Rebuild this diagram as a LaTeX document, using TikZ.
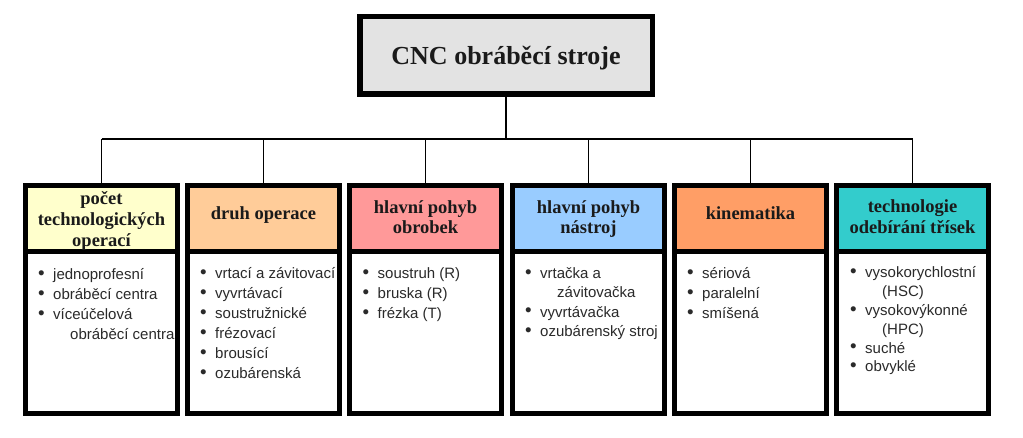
\documentclass[tikz,border=0pt]{standalone}
\usepackage{fontspec}
\usepackage{graphicx}
\setmainfont{Liberation Serif}
\setsansfont{Liberation Sans}
\definecolor{cTop}{HTML}{E3E3E3}
\definecolor{cA}{HTML}{FFFFCC}
\definecolor{cB}{HTML}{FFCC99}
\definecolor{cC}{HTML}{FF9999}
\definecolor{cD}{HTML}{99CCFF}
\definecolor{cE}{HTML}{FF9E66}
\definecolor{cF}{HTML}{33CCCC}
\definecolor{htxt}{HTML}{1A1A1A}
\definecolor{btxt}{HTML}{2A2A2A}
\newcommand\bitem{\par\noindent\llap{\raisebox{0.3pt}{\scalebox{1.25}{\textbullet}}\hspace{8.5pt}}}
\newcommand\cont{\\\hspace*{17pt}}
\tikzset{
  topbox/.style={draw=black, line width=5.5pt, fill=cTop, inner sep=0pt,
    minimum width=292.5pt, minimum height=77.5pt, text height=19pt, text depth=0pt,
    font=\fontsize{26}{30}\selectfont\bfseries, text=htxt},
  headbox/.style={draw=black, line width=5pt, inner sep=0pt,
    minimum width=152pt, minimum height=66.5pt},
  htext/.style={anchor=base, inner sep=0pt, text=htxt,
    font=\fontsize{18.5}{21}\selectfont\bfseries},
  bodybox/.style={draw=black, line width=5pt, inner sep=0pt, fill=white,
    minimum width=152pt, minimum height=161.5pt},
  items/.style={anchor=base west, inner sep=0pt, text=btxt,
    font=\sffamily\fontsize{15}{20}\selectfont},
  bus/.style={line width=2.6pt},
  drop/.style={line width=1.6pt}
}
\newcommand\hlines[1]{\parbox[t]{150pt}{\centering #1}}
\begin{document}
\begin{tikzpicture}[x=1pt,y=-1pt]
\useasboundingbox (0,0) rectangle (1023,438);
\node[topbox] (top) at (506,55.5) {CNC obráběcí stroje};
% bodies
\node[bodybox] (b1) at (101.5,332.75) {};
\node[bodybox] (b2) at (263.5,332.75) {};
\node[bodybox] (b3) at (425.5,332.75) {};
\node[bodybox] (b4) at (588.5,332.75) {};
\node[bodybox] (b5) at (750.5,332.75) {};
\node[bodybox] (b6) at (912.5,332.75) {};
% heads
\node[headbox, fill=cA] (h1) at (101.5,218.75) {};
\node[headbox, fill=cB] (h2) at (263.5,218.75) {};
\node[headbox, fill=cC] (h3) at (425.5,218.75) {};
\node[headbox, fill=cD] (h4) at (588.5,218.75) {};
\node[headbox, fill=cE] (h5) at (750.5,218.75) {};
\node[headbox, fill=cF] (h6) at (912.5,218.75) {};
\node[htext] (l1) at (101.5,205) {\hlines{počet\\technologických\\operací}};
\node[htext] (l2) at (263.5,220) {\hlines{druh operace}};
\node[htext, font=\fontsize{18.5}{20.5}\selectfont\bfseries] (l3) at (425.5,213.5) {\hlines{hlavní pohyb\\obrobek}};
\node[htext, font=\fontsize{18.5}{20.5}\selectfont\bfseries] (l4) at (588.5,213.5) {\hlines{hlavní pohyb\\nástroj}};
\node[htext] (l5) at (750.5,219.5) {\hlines{kinematika}};
\node[htext, font=\fontsize{18.5}{20.8}\selectfont\bfseries] (l6) at (912.5,212.5) {\hlines{technologie\\odebírání třísek}};
% connectors
\coordinate (bus) at (506,139);
\draw[drop] (top.south) -- (bus);
\draw[bus] (h1.north |- bus) -- (h6.north |- bus);
\foreach \i in {1,...,6}{
  \draw[drop] (h\i.north) -- (h\i.north |- bus);
}
% item lists
\node[items] (t1) at (53,279.5) {\parbox[t]{130pt}{%
  \bitem jednoprofesní
  \bitem obráběcí centra
  \bitem víceúčelová\cont obráběcí centra}};
\node[items] (t2) at (215,278.5) {\parbox[t]{130pt}{%
  \bitem vrtací a závitovací
  \bitem vyvrtávací
  \bitem soustružnické
  \bitem frézovací
  \bitem brousící
  \bitem ozubárenská}};
\node[items] (t3) at (377.5,278.5) {\parbox[t]{130pt}{%
  \bitem soustruh (R)
  \bitem bruska (R)
  \bitem frézka (T)}};
\node[items, font=\sffamily\fontsize{15}{19.4}\selectfont] (t4) at (540,278.5) {\parbox[t]{130pt}{%
  \bitem vrtačka a\cont závitovačka
  \bitem vyvrtávačka
  \bitem ozubárenský stroj}};
\node[items] (t5) at (702,278.5) {\parbox[t]{130pt}{%
  \bitem sériová
  \bitem paralelní
  \bitem smíšená}};
\node[items, font=\sffamily\fontsize{15}{18.8}\selectfont] (t6) at (865,278) {\parbox[t]{130pt}{%
  \bitem vysokorychlostní\cont (HSC)
  \bitem vysokovýkonné\cont (HPC)
  \bitem suché
  \bitem obvyklé}};
\end{tikzpicture}
\end{document}
